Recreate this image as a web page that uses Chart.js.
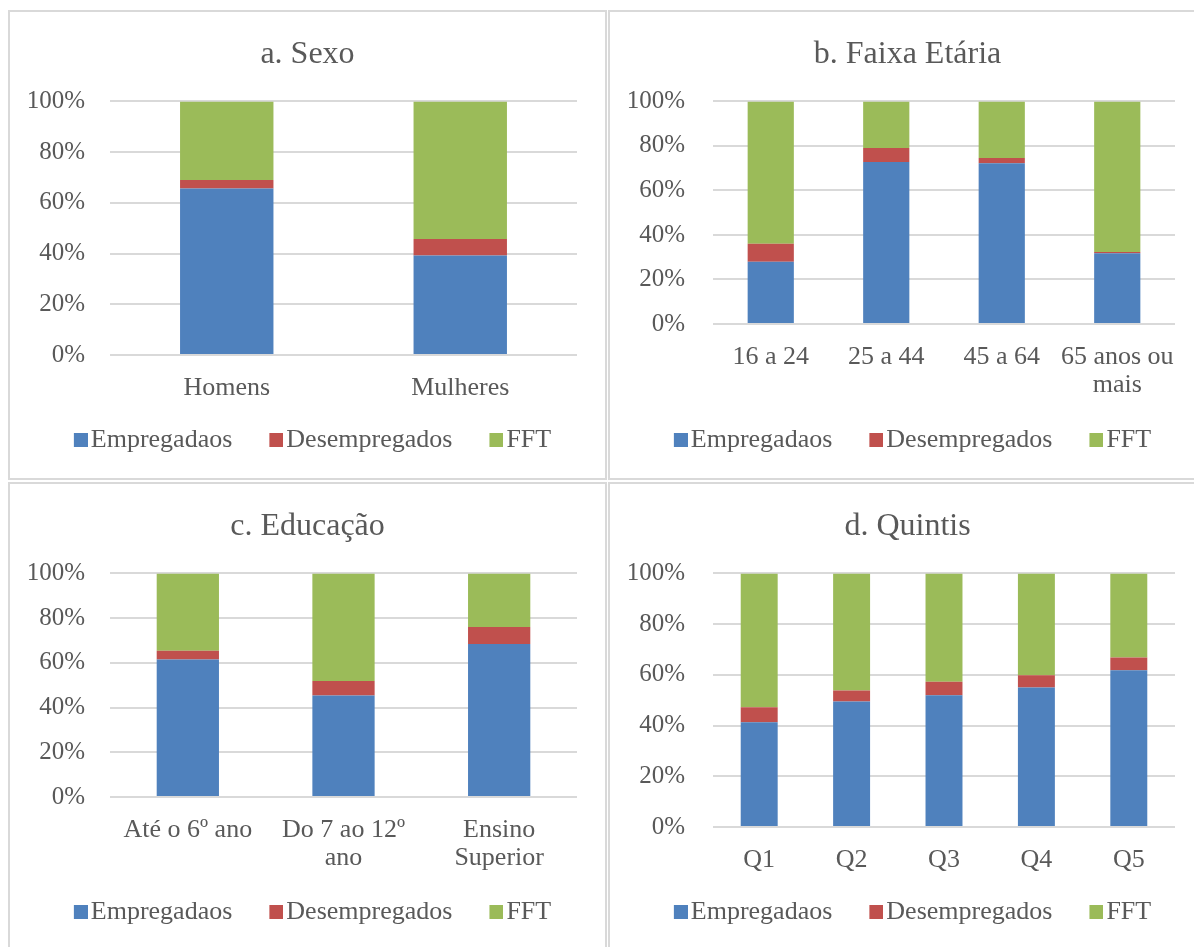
<!DOCTYPE html>
<html>
<head>
<meta charset="utf-8">
<script src="https://cdn.jsdelivr.net/npm/chart.js@4"></script>
<style>
  html, body { margin: 0; padding: 0; background: #fff; overflow: hidden; }
  body { width: 1194px; height: 947px; position: relative; }
  .panel { position: absolute; width: 599px; height: 470px; border: 2px solid #d9d9d9; box-sizing: border-box; }
  .panel canvas { position: absolute; left: 0; top: 0; }
</style>
</head>
<body>
<div class="panel" style="left:8px;top:10px"><canvas id="cA" width="595" height="466"></canvas></div>
<div class="panel" style="left:608px;top:10px"><canvas id="cB" width="595" height="466"></canvas></div>
<div class="panel" style="left:8px;top:482px"><canvas id="cC" width="595" height="466"></canvas></div>
<div class="panel" style="left:608px;top:482px"><canvas id="cD" width="595" height="466"></canvas></div>
<script>
// series names
const seriesNames = ['Empregadaos', 'Desempregados', 'FFT'];
const seriesColors = ['#4f81bd', '#c0504d', '#9bbb59'];

// a. Sexo
const sexoLabels = ['Homens', 'Mulheres'];
const sexoEmpregados = [65.7, 39.2];
const sexoDesempregados = [3.3, 6.5];
const sexoFFT = [31.0, 54.3];

// b. Faixa Etária
const idadeLabels = ['16 a 24', '25 a 44', '45 a 64', ['65 anos ou', 'mais']];
const idadeEmpregados = [28.0, 72.8, 72.2, 31.8];
const idadeDesempregados = [8.0, 6.3, 2.4, 0.6];
const idadeFFT = [64.0, 20.9, 25.4, 67.6];

// c. Educação
const eduLabels = ['Até o 6º ano', ['Do 7 ao 12º', 'ano'], ['Ensino', 'Superior']];
const eduEmpregados = [61.5, 45.4, 68.4];
const eduDesempregados = [3.9, 6.5, 7.6];
const eduFFT = [34.6, 48.1, 24.0];

// d. Quintis
const quintLabels = ['Q1', 'Q2', 'Q3', 'Q4', 'Q5'];
const quintEmpregados = [41.3, 49.5, 52.0, 55.0, 61.8];
const quintDesempregados = [5.9, 4.3, 5.3, 4.8, 5.0];
const quintFFT = [52.8, 46.2, 42.7, 40.2, 33.2];

const yTicks = [0, 20, 40, 60, 80, 100];

const FONT = "'Liberation Serif', 'Times New Roman', serif";
const TEXT = '#595959';
const GRID = '#d9d9d9';

// legend marker: small square sitting close to the text (Excel style)
const MARK_W = 14;
function legendSquare (color) {
  const c = document.createElement('canvas');
  c.width = MARK_W + 20;
  c.height = 14;
  const g = c.getContext('2d');
  g.fillStyle = color;
  g.fillRect(MARK_W + 6, 0, 14, 14);
  return c;
}
const legendMarks = seriesColors.map(legendSquare);

function makePanel (id, title, labels, values, m) {
  const ctx = document.getElementById(id).getContext('2d');
  return new Chart(ctx, {
    type: 'bar',
    data: {
      labels: labels,
      datasets: values.map((v, i) => ({
        label: seriesNames[i],
        data: v,
        backgroundColor: seriesColors[i],
        borderWidth: 0,
        barPercentage: 0.4,
        categoryPercentage: 1
      }))
    },
    options: {
      responsive: false,
      animation: false,
      layout: { padding: { left: 0, right: 0, top: 0, bottom: 15 } },
      plugins: {
        title: {
          display: true,
          text: title,
          color: TEXT,
          font: { family: FONT, size: 32, weight: 'normal', lineHeight: 1.2 },
          padding: { top: 23, bottom: 28 }
        },
        legend: {
          position: 'bottom',
          labels: {
            color: TEXT,
            font: { family: FONT, size: 26 },
            usePointStyle: true,
            pointStyleWidth: MARK_W,
            boxHeight: 14,
            padding: 27,
            generateLabels: chart => {
              const items = Chart.defaults.plugins.legend.labels.generateLabels(chart);
              items.forEach((it, i) => { it.pointStyle = legendMarks[i]; });
              return items;
            }
          }
        },
        tooltip: { enabled: false }
      },
      scales: {
        x: {
          stacked: true,
          grid: { display: false },
          border: { display: false },
          ticks: {
            color: TEXT,
            padding: 11,
            maxRotation: 0,
            autoSkip: false,
            font: { family: FONT, size: 26, lineHeight: 1.08 }
          },
          afterFit: s => { s.height = m.xHeight; }
        },
        y: {
          stacked: true,
          min: 0,
          max: 100,
          grid: { color: GRID, lineWidth: 2, drawTicks: false },
          border: { display: false },
          afterBuildTicks: s => { s.ticks = yTicks.map(v => ({ value: v })); },
          ticks: {
            color: TEXT,
            padding: m.tickPad,
            font: { family: FONT, size: 25 },
            callback: v => v + '%'
          },
          afterFit: s => { s.width = m.left; }
        },
        yRight: {
          type: 'linear',
          position: 'right',
          display: true,
          grid: { display: false },
          border: { display: false },
          ticks: { display: false },
          afterFit: s => { s.width = m.right; }
        }
      }
    }
  });
}

makePanel('cA', 'a. Sexo', sexoLabels,
  [sexoEmpregados, sexoDesempregados, sexoFFT],
  { left: 100, right: 28, xHeight: 45, tickPad: 25 });
makePanel('cB', 'b. Faixa Etária', idadeLabels,
  [idadeEmpregados, idadeDesempregados, idadeFFT],
  { left: 103, right: 30, xHeight: 76, tickPad: 28 });
makePanel('cC', 'c. Educação', eduLabels,
  [eduEmpregados, eduDesempregados, eduFFT],
  { left: 100, right: 28, xHeight: 75, tickPad: 25 });
makePanel('cD', 'd. Quintis', quintLabels,
  [quintEmpregados, quintDesempregados, quintFFT],
  { left: 103, right: 30, xHeight: 45, tickPad: 28 });
</script>
</body>
</html>
